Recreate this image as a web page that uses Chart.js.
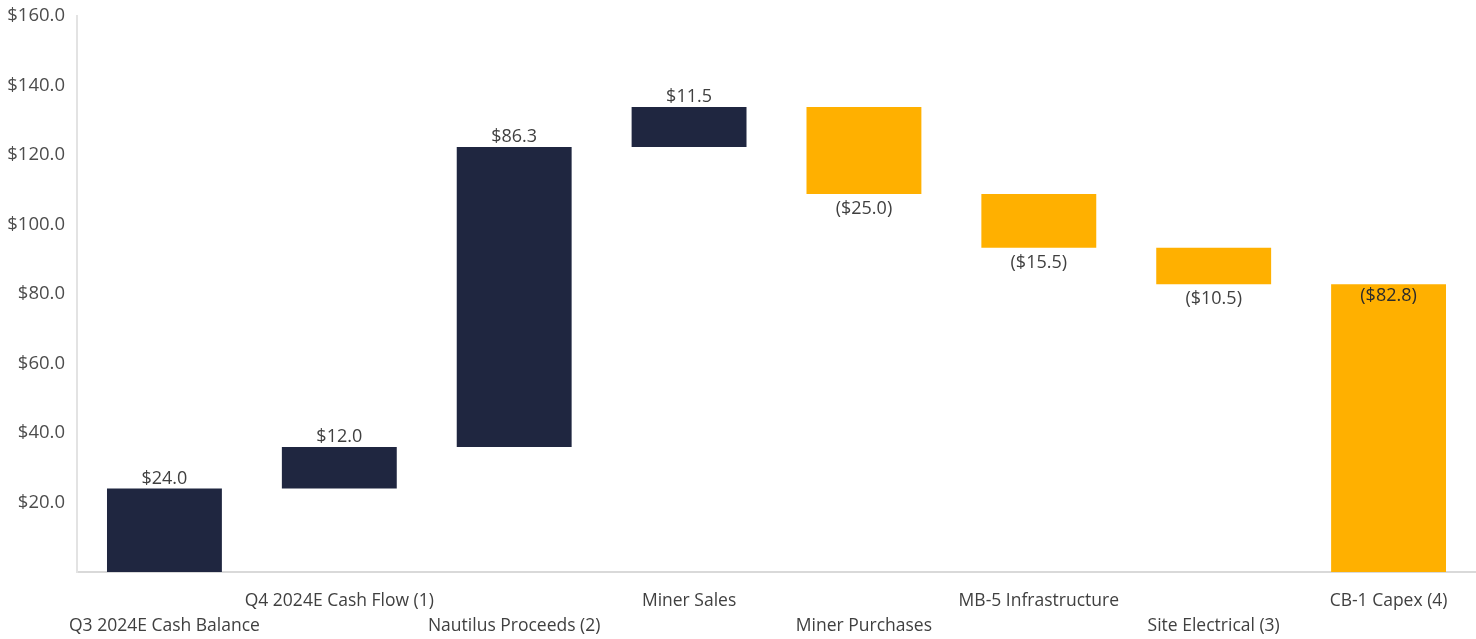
<!DOCTYPE html>
<html><head><meta charset="utf-8">
<script src="https://cdn.jsdelivr.net/npm/chart.js@4/dist/chart.umd.min.js"></script>
<style>html,body{margin:0;padding:0;background:#fff;}#wrap{width:1476px;height:639px;}</style>
</head><body><div id="wrap"><canvas id="c" width="1476" height="639"></canvas></div>
<script>
const categories = ["Q3 2024E Cash Balance","Q4 2024E Cash Flow (1)","Nautilus Proceeds (2)","Miner Sales","Miner Purchases","MB-5 Infrastructure","Site Electrical (3)","CB-1 Capex (4)"];
const deltas = [24.0, 12.0, 86.3, 11.5, -25.0, -15.5, -10.5, -82.8];
const labels = ["$24.0","$12.0","$86.3","$11.5","($25.0)","($15.5)","($10.5)","($82.8)"];
const yTicks = [20,40,60,80,100,120,140,160];

const NAVY = '#1f2640', ORANGE = '#ffb000';
let run = 0;
const ranges = [], colors = [];
deltas.forEach((d,i)=>{
  if (i === deltas.length-1) { ranges.push([0, run]); colors.push(ORANGE); return; }
  const s = run; run += d;
  ranges.push([s, run]);
  colors.push(d >= 0 ? NAVY : ORANGE);
});

const FONT = "'Open Sans', 'Noto Sans', sans-serif";
const labelPlugin = {
  id:'lbls',
  afterDatasetsDraw(chart){
    const ctx = chart.ctx;
    const meta = chart.getDatasetMeta(0);
    ctx.save();
    ctx.font = "18px " + FONT;
    ctx.textAlign = 'center';
    meta.data.forEach((bar,i)=>{
      const top = Math.min(bar.y, bar.base), bot = Math.max(bar.y, bar.base);
      if (i === deltas.length-1) {
        ctx.fillStyle = '#2b2b2b';
        ctx.textBaseline = 'top';
        ctx.fillText(labels[i], bar.x, top + 3);
      } else if (deltas[i] >= 0) {
        ctx.fillStyle = '#404040';
        ctx.textBaseline = 'bottom';
        ctx.fillText(labels[i], bar.x, top - 1);
      } else {
        ctx.fillStyle = '#404040';
        ctx.textBaseline = 'top';
        ctx.fillText(labels[i], bar.x, bot + 6);
      }
    });
    ctx.restore();
  }
};

new Chart(document.getElementById('c'), {
  type:'bar',
  data:{ labels: categories, datasets:[{ data: ranges, backgroundColor: colors, borderWidth:0, categoryPercentage:1, barPercentage:0.657 }]},
  options:{
    responsive:false, animation:false,
    layout:{ padding:{ top:16, right:0, left:0, bottom:0 } },
    plugins:{ legend:{display:false}, tooltip:{enabled:false} },
    scales:{
      x:{
        afterFit:(s)=>{ s.height = 67; s.paddingLeft = 0; s.paddingRight = 0; },
        grid:{ display:false, drawTicks:false },
        border:{ display:true, color:'#d9d9d9', width:2 },
        ticks:{ color:'#404040', font:{ size:17.5, family:FONT, lineHeight:1.45 }, padding:16, maxRotation:0, autoSkip:false,
          callback:(v,i)=> i % 2 === 0 ? ['', categories[i]] : [categories[i]] }
      },
      y:{
        min:0, max:160,
        afterFit:(s)=>{ s.width = 77; s.paddingTop = 0; s.paddingBottom = 0; },
        afterBuildTicks:(s)=>{ s.ticks = yTicks.map(v=>({value:v})); },
        grid:{ display:false, drawTicks:false },
        border:{ display:true, color:'#e3e3e3', width:2 },
        ticks:{ color:'#4d4d4d', font:{ size:18.5, family:FONT }, padding:12,
          callback:(v)=> '$' + Number(v).toFixed(1) }
      }
    }
  },
  plugins:[labelPlugin]
});
</script></body></html>
